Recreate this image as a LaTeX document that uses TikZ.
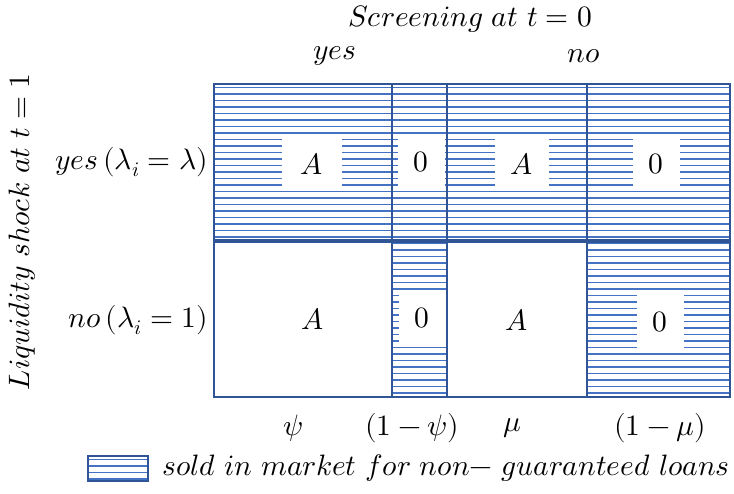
\documentclass[tikz,border=0pt]{standalone}
\usepackage{unicode-math}
\setmathfont{Latin Modern Math}
\definecolor{gridblue}{RGB}{47,85,151}
\definecolor{hatchblue}{RGB}{68,114,196}
\newcommand{\hatchcell}[4]{%
  \begin{scope}
    \clip (#1,#2) rectangle (#3,#4);
    \foreach \k in {0,...,30}
      \draw[hatchline] (#1,#2+3.5+\k*6.5) -- (#3,#2+3.5+\k*6.5);
  \end{scope}}
\tikzset{
  hatchline/.style={hatchblue, line width=1.1pt},
  cellborder/.style={draw=gridblue, line width=1.6pt},
  lbl/.style={font=\fontsize{29.5}{33}\selectfont, inner sep=0pt},
  cellbox/.style={fill=white, inner sep=0pt, font=\fontsize{29.5}{33}\selectfont},
}
\begin{document}
\begin{tikzpicture}[x=1pt,y=-1pt]
\useasboundingbox (0,0) rectangle (734,494);
% hatched cells
\hatchcell{214}{84}{392}{240}
\hatchcell{392}{84}{447}{240}
\hatchcell{447}{84}{587}{240}
\hatchcell{587}{84}{730}{240}
\hatchcell{392}{240}{447}{397}
\hatchcell{587}{240}{730}{397}
% borders
\draw[cellborder] (214,84) rectangle (392,240);
\draw[cellborder] (392,84) rectangle (447,240);
\draw[cellborder] (447,84) rectangle (587,240);
\draw[cellborder] (587,84) rectangle (730,240);
\draw[cellborder] (214,242) rectangle (392,397);
\draw[cellborder] (392,242) rectangle (447,397);
\draw[cellborder] (447,242) rectangle (587,397);
\draw[cellborder] (587,242) rectangle (730,397);
% cell contents
\node[cellbox, minimum width=60pt, minimum height=49pt] (a11) at (312,164) {$A$};
\node[cellbox, minimum width=47pt, minimum height=53pt] (z12) at (421,162) {$0$};
\node[cellbox, minimum width=54pt, minimum height=49pt] (a13) at (522,164) {$A$};
\node[cellbox, minimum width=47pt, minimum height=49pt] (z14) at (656,164) {$0$};
\node[cellbox] (a21) at (313,319) {$A$};
\node[cellbox, minimum width=47pt, minimum height=55pt] (z22) at (422,318) {$0$};
\node[cellbox] (a23) at (517,320) {$A$};
\node[cellbox, minimum width=47pt, minimum height=55pt] (z24) at (660,322) {$0$};
% headings
\node[lbl] (scr) at (470,19) {$Screening\ at\ t=0$};
\node[lbl] (yes) at (335,56) {$yes$};
\node[lbl] (no) at (584,56) {$no$};
\node[lbl, rotate=90] (liq) at (22,232) {$Liquidity\ shock\ at\ t=1$};
\node[lbl, anchor=east] (ryes) at (208,162) {$yes\,(\lambda_i=\lambda)$};
\node[lbl, anchor=east] (rno) at (208,320) {$no\,(\lambda_i=1)$};
% bottom labels
\node[lbl] (psi) at (293,428) {$\psi$};
\node[lbl] (opsi) at (412,428) {$(1-\psi)$};
\node[lbl] (mu) at (512,428) {$\mu$};
\node[lbl] (omu) at (660,428) {$(1-\mu)$};
% legend
\hatchcell{88}{456}{148}{481}
\draw[cellborder] (88,456) rectangle (148,481);
\node[lbl, anchor=west] (leg) at (162,468) {$sold\ in\ market\ for\ non{-}\ guaranteed\ loans$};
\end{tikzpicture}
\end{document}
